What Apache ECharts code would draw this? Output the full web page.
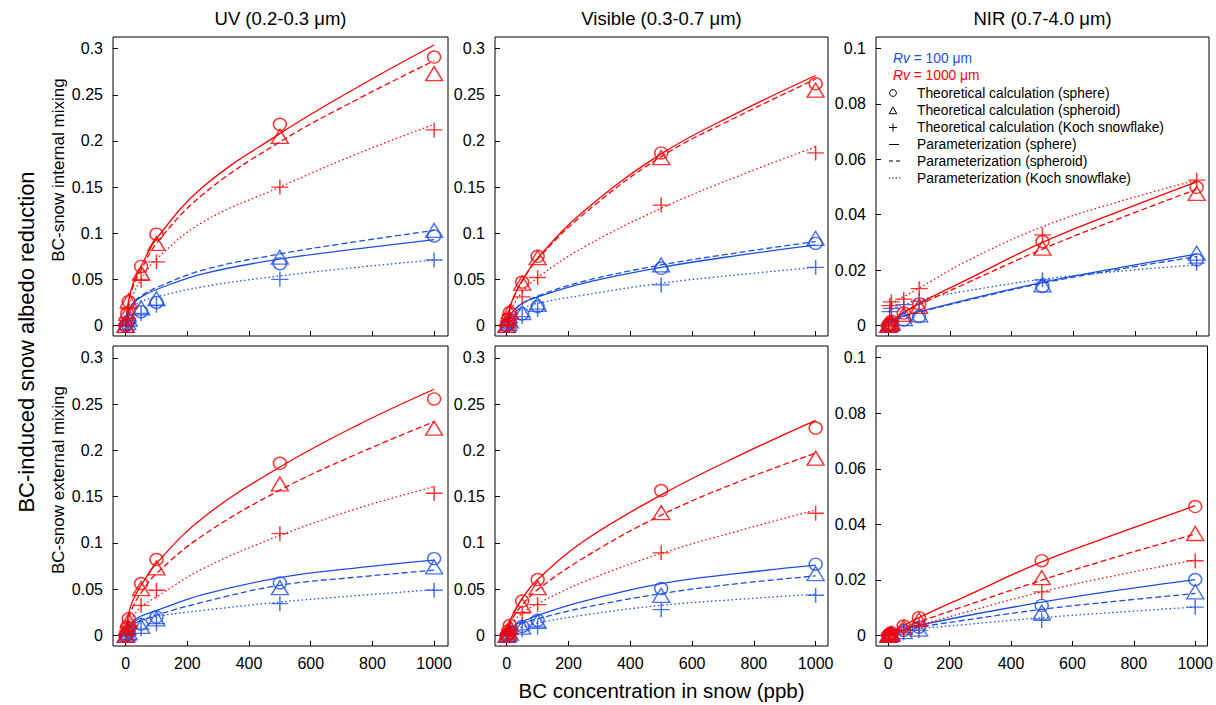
<!DOCTYPE html>
<html><head><meta charset="utf-8">
<script src="https://cdn.jsdelivr.net/npm/echarts@6/dist/echarts.min.js"></script>
<style>html,body{margin:0;padding:0;background:#fff}#c{width:1216px;height:705px}</style>
</head><body><div id="c"></div>
<script>
// ---------- text ----------
const panelTitles = ['UV (0.2-0.3 μm)', 'Visible (0.3-0.7 μm)', 'NIR (0.7-4.0 μm)'];
const rowLabels = ['BC-snow internal mixing', 'BC-snow external mixing'];
const yTitle = 'BC-induced snow albedo reduction';
const xTitle = 'BC concentration in snow (ppb)';
const legendRv = ['= 100 μm', '= 1000 μm'];
const legendItems = ['Theoretical calculation (sphere)', 'Theoretical calculation (spheroid)', 'Theoretical calculation (Koch snowflake)',
  'Parameterization (sphere)', 'Parameterization (spheroid)', 'Parameterization (Koch snowflake)'];

// ---------- ticks ----------
const xTicks = [0, 200, 400, 600, 800, 1000];
const yTicksUV = [0, 0.05, 0.1, 0.15, 0.2, 0.25, 0.3];
const yTicksNIR = [0, 0.02, 0.04, 0.06, 0.08, 0.1];

// ---------- x values ----------
const bcPts = [0, 5, 10, 50, 100, 500, 1000];
const bcFit = [0, 10, 25, 50, 100, 250, 500, 750, 1000];

// ---------- UV, internal mixing ----------
const uvInt_pt_r1000_sph  = [0, 0.013, 0.026, 0.064, 0.099, 0.218, 0.291];
const uvInt_pt_r1000_spd  = [0, 0.013, 0.027, 0.057, 0.089, 0.205, 0.273];
const uvInt_pt_r1000_koch = [0, 0.008, 0.018, 0.049, 0.069, 0.150, 0.212];
const uvInt_pt_r100_sph   = [0, 0.002, 0.005, 0.015, 0.025, 0.067, 0.097];
const uvInt_pt_r100_spd   = [0, 0.003, 0.007, 0.019, 0.029, 0.074, 0.103];
const uvInt_pt_r100_koch  = [0, 0.002, 0.004, 0.013, 0.022, 0.050, 0.071];
const uvInt_fit_r1000_sph  = [0, 0.028, 0.046, 0.064, 0.094, 0.150, 0.208, 0.258, 0.304];
const uvInt_fit_r1000_spd  = [0, 0.026, 0.043, 0.060, 0.089, 0.142, 0.199, 0.245, 0.287];
const uvInt_fit_r1000_koch = [0, 0.021, 0.034, 0.050, 0.072, 0.112, 0.150, 0.186, 0.218];
const uvInt_fit_r100_sph   = [0, 0.016, 0.024, 0.031, 0.039, 0.056, 0.072, 0.083, 0.093];
const uvInt_fit_r100_spd   = [0, 0.016, 0.025, 0.032, 0.041, 0.060, 0.0775, 0.091, 0.103];
const uvInt_fit_r100_koch  = [0, 0.013, 0.020, 0.026, 0.031, 0.042, 0.0537, 0.063, 0.071];

// ---------- Visible, internal mixing ----------
const visInt_pt_r1000_sph  = [0, 0.007, 0.014, 0.047, 0.075, 0.187, 0.262];
const visInt_pt_r1000_spd  = [0, 0.007, 0.015, 0.046, 0.0735, 0.182, 0.255];
const visInt_pt_r1000_koch = [0, 0.005, 0.012, 0.031, 0.052, 0.1305, 0.187];
const visInt_pt_r100_sph   = [0, 0.002, 0.004, 0.0126, 0.0205, 0.062, 0.089];
const visInt_pt_r100_spd   = [0, 0.002, 0.005, 0.014, 0.023, 0.0656, 0.0945];
const visInt_pt_r100_koch  = [0, 0.001, 0.003, 0.0097, 0.0177, 0.044, 0.063];
const visInt_fit_r1000_sph  = [0, 0.019, 0.033, 0.049, 0.073, 0.124, 0.186, 0.231, 0.271];
const visInt_fit_r1000_spd  = [0, 0.018, 0.032, 0.048, 0.072, 0.121, 0.183, 0.227, 0.267];
const visInt_fit_r1000_koch = [0, 0.014, 0.024, 0.036, 0.052, 0.085, 0.127, 0.162, 0.1936];
const visInt_fit_r100_sph   = [0, 0.010, 0.017, 0.024, 0.031, 0.046, 0.063, 0.076, 0.087];
const visInt_fit_r100_spd   = [0, 0.010, 0.017, 0.024, 0.032, 0.048, 0.0656, 0.079, 0.091];
const visInt_fit_r100_koch  = [0, 0.008, 0.013, 0.018, 0.024, 0.033, 0.0458, 0.055, 0.063];

// ---------- NIR, internal mixing ----------
const nirInt_pt_r1000_sph  = [0, 0.0008, 0.0015, 0.0045, 0.0078, 0.0303, 0.0499];
const nirInt_pt_r1000_spd  = [0, 0.0006, 0.0012, 0.0040, 0.0069, 0.0279, 0.0477];
const nirInt_pt_r1000_koch = [0, 0.0072, 0.0085, 0.0095, 0.0133, 0.0327, 0.0525];
const nirInt_pt_r100_sph   = [0, 0.0003, 0.0006, 0.0020, 0.0032, 0.0141, 0.0237];
const nirInt_pt_r100_spd   = [0, 0.0004, 0.0008, 0.0025, 0.0038, 0.0147, 0.0261];
const nirInt_pt_r100_koch  = [0, 0.0050, 0.0062, 0.0075, 0.0088, 0.0165, 0.0225];
const nirInt_fit_r1000_sph  = [0, 0.0012, 0.0028, 0.0048, 0.0080, 0.0163, 0.0300, 0.0413, 0.0519];
const nirInt_fit_r1000_spd  = [0, 0.0011, 0.0026, 0.0045, 0.0075, 0.0151, 0.0276, 0.0387, 0.0492];
const nirInt_fit_r1000_koch = [null, 0.0076, 0.0088, 0.0104, 0.0135, 0.0230, 0.0357, 0.0448, 0.0525];
const nirInt_fit_r100_sph   = [0, 0.0015, 0.0025, 0.0035, 0.0050, 0.0092, 0.0156, 0.0209, 0.0258];
const nirInt_fit_r100_spd   = [0, 0.0014, 0.0023, 0.0033, 0.0048, 0.0089, 0.0153, 0.0203, 0.0249];
const nirInt_fit_r100_koch  = [0.0050, 0.0058, 0.0065, 0.0075, 0.0093, 0.0124, 0.0167, 0.0196, 0.0219];

// ---------- UV, external mixing ----------
const uvExt_pt_r1000_sph  = [0, 0.009, 0.018, 0.056, 0.082, 0.186, 0.2555];
const uvExt_pt_r1000_spd  = [0, 0.008, 0.016, 0.0506, 0.073, 0.1637, 0.224];
const uvExt_pt_r1000_koch = [0, 0.005, 0.010, 0.0325, 0.0488, 0.110, 0.1536];
const uvExt_pt_r100_sph   = [0, 0.002, 0.004, 0.012, 0.0199, 0.0567, 0.083];
const uvExt_pt_r100_spd   = [0, 0.0015, 0.003, 0.0098, 0.018, 0.0517, 0.074];
const uvExt_pt_r100_koch  = [0, 0.001, 0.002, 0.0072, 0.0127, 0.0343, 0.0488];
const uvExt_fit_r1000_sph  = [0, 0.024, 0.039, 0.054, 0.078, 0.127, 0.182, 0.227, 0.266];
const uvExt_fit_r1000_spd  = [0, 0.019, 0.032, 0.046, 0.067, 0.108, 0.157, 0.196, 0.231];
const uvExt_fit_r1000_koch = [0, 0.012, 0.021, 0.031, 0.0416, 0.072, 0.108, 0.137, 0.1608];
const uvExt_fit_r100_sph   = [0, 0.010, 0.016, 0.021, 0.027, 0.044, 0.0625, 0.073, 0.0813];
const uvExt_fit_r100_spd   = [0, 0.007, 0.012, 0.016, 0.022, 0.036, 0.0542, 0.063, 0.0705];
const uvExt_fit_r100_koch  = [0, 0.008, 0.012, 0.016, 0.0206, 0.027, 0.0361, 0.043, 0.0495];

// ---------- Visible, external mixing ----------
const visExt_pt_r1000_sph  = [0, 0.005, 0.011, 0.0372, 0.0604, 0.1565, 0.224];
const visExt_pt_r1000_spd  = [0, 0.004, 0.009, 0.0325, 0.0517, 0.1327, 0.1916];
const visExt_pt_r1000_koch = [0, 0.003, 0.006, 0.0242, 0.0333, 0.0893, 0.132];
const visExt_pt_r100_sph   = [0, 0.0015, 0.003, 0.0098, 0.0163, 0.0506, 0.077];
const visExt_pt_r100_spd   = [0, 0.0012, 0.0025, 0.009, 0.0152, 0.0434, 0.0669];
const visExt_pt_r100_koch  = [0, 0.001, 0.002, 0.0061, 0.009, 0.0278, 0.0434];
const visExt_fit_r1000_sph  = [0, 0.015, 0.026, 0.040, 0.0604, 0.102, 0.1518, 0.194, 0.2324];
const visExt_fit_r1000_spd  = [0, 0.012, 0.022, 0.033, 0.0495, 0.084, 0.130, 0.166, 0.197];
const visExt_fit_r1000_koch = [0, 0.009, 0.016, 0.024, 0.0343, 0.058, 0.0886, 0.113, 0.1355];
const visExt_fit_r100_sph   = [0, 0.007, 0.011, 0.015, 0.0217, 0.037, 0.056, 0.067, 0.0759];
const visExt_fit_r100_spd   = [0, 0.006, 0.009, 0.013, 0.018, 0.030, 0.0452, 0.056, 0.0643];
const visExt_fit_r100_koch  = [0, 0.004, 0.007, 0.009, 0.0134, 0.022, 0.0325, 0.039, 0.0445];

// ---------- NIR, external mixing ----------
const nirExt_pt_r1000_sph  = [0, 0.0005, 0.0010, 0.0034, 0.0064, 0.0269, 0.0464];
const nirExt_pt_r1000_spd  = [0, 0.0004, 0.0008, 0.0030, 0.0057, 0.0208, 0.0367];
const nirExt_pt_r1000_koch = [0, 0.0003, 0.0005, 0.0020, 0.0036, 0.0157, 0.0269];
const nirExt_pt_r100_sph   = [0, 0.0003, 0.0005, 0.0018, 0.0030, 0.0108, 0.0201];
const nirExt_pt_r100_spd   = [0, 0.0002, 0.0004, 0.0014, 0.0023, 0.0084, 0.0157];
const nirExt_pt_r100_koch  = [0, 0.0001, 0.0003, 0.0010, 0.0018, 0.0054, 0.0102];
const nirExt_fit_r1000_sph  = [0, 0.0008, 0.0019, 0.0035, 0.0064, 0.0140, 0.0265, 0.0368, 0.0467];
const nirExt_fit_r1000_spd  = [0, 0.0006, 0.0014, 0.0026, 0.0048, 0.0106, 0.0199, 0.0285, 0.0365];
const nirExt_fit_r1000_koch = [0, 0.0005, 0.0011, 0.0020, 0.0036, 0.0083, 0.0157, 0.0218, 0.0271];
const nirExt_fit_r100_sph   = [0, 0.0005, 0.0012, 0.0021, 0.0036, 0.0070, 0.0120, 0.0163, 0.0201];
const nirExt_fit_r100_spd   = [0, 0.0004, 0.0010, 0.0018, 0.0030, 0.0055, 0.0094, 0.0124, 0.0151];
const nirExt_fit_r100_koch  = [0, 0.0005, 0.0010, 0.0015, 0.0024, 0.0039, 0.0064, 0.0084, 0.0102];

// ---------- assemble ----------
const RED = '#ff0000', BLUE = '#1b4fe6';
const FONT = '"Liberation Sans", Arial, Helvetica, sans-serif';

const panelData = [
  {pts: {b: [uvInt_pt_r100_sph, uvInt_pt_r100_spd, uvInt_pt_r100_koch], r: [uvInt_pt_r1000_sph, uvInt_pt_r1000_spd, uvInt_pt_r1000_koch]},
   fit: {b: [uvInt_fit_r100_sph, uvInt_fit_r100_spd, uvInt_fit_r100_koch], r: [uvInt_fit_r1000_sph, uvInt_fit_r1000_spd, uvInt_fit_r1000_koch]}},
  {pts: {b: [visInt_pt_r100_sph, visInt_pt_r100_spd, visInt_pt_r100_koch], r: [visInt_pt_r1000_sph, visInt_pt_r1000_spd, visInt_pt_r1000_koch]},
   fit: {b: [visInt_fit_r100_sph, visInt_fit_r100_spd, visInt_fit_r100_koch], r: [visInt_fit_r1000_sph, visInt_fit_r1000_spd, visInt_fit_r1000_koch]}},
  {pts: {b: [nirInt_pt_r100_sph, nirInt_pt_r100_spd, nirInt_pt_r100_koch], r: [nirInt_pt_r1000_sph, nirInt_pt_r1000_spd, nirInt_pt_r1000_koch]},
   fit: {b: [nirInt_fit_r100_sph, nirInt_fit_r100_spd, nirInt_fit_r100_koch], r: [nirInt_fit_r1000_sph, nirInt_fit_r1000_spd, nirInt_fit_r1000_koch]}},
  {pts: {b: [uvExt_pt_r100_sph, uvExt_pt_r100_spd, uvExt_pt_r100_koch], r: [uvExt_pt_r1000_sph, uvExt_pt_r1000_spd, uvExt_pt_r1000_koch]},
   fit: {b: [uvExt_fit_r100_sph, uvExt_fit_r100_spd, uvExt_fit_r100_koch], r: [uvExt_fit_r1000_sph, uvExt_fit_r1000_spd, uvExt_fit_r1000_koch]}},
  {pts: {b: [visExt_pt_r100_sph, visExt_pt_r100_spd, visExt_pt_r100_koch], r: [visExt_pt_r1000_sph, visExt_pt_r1000_spd, visExt_pt_r1000_koch]},
   fit: {b: [visExt_fit_r100_sph, visExt_fit_r100_spd, visExt_fit_r100_koch], r: [visExt_fit_r1000_sph, visExt_fit_r1000_spd, visExt_fit_r1000_koch]}},
  {pts: {b: [nirExt_pt_r100_sph, nirExt_pt_r100_spd, nirExt_pt_r100_koch], r: [nirExt_pt_r1000_sph, nirExt_pt_r1000_spd, nirExt_pt_r1000_koch]},
   fit: {b: [nirExt_fit_r100_sph, nirExt_fit_r100_spd, nirExt_fit_r100_koch], r: [nirExt_fit_r1000_sph, nirExt_fit_r1000_spd, nirExt_fit_r1000_koch]}}
];

const colLeft = [113, 495, 876];
const colWidth = [335, 333, 333];
const colXRange = [[-41, 1045], [-38, 1040], [-40, 1040]];
const rowTop = [37, 346];
const rowHeight = [299, 300];
const yRangeUV = [-0.0114, 0.3127];
const yRangeNIR = [-0.0038, 0.1042];

const shapes = [
  {sym: 'circle', size: [13, 12], dash: 'solid'},
  {sym: 'triangle', size: [17, 14], dash: [6, 3]},
  {sym: 'path://M0,7H14M7,0V14', size: [17, 15], dash: [1.5, 2.6]}
];

const grids = [], xAxes = [], yAxes = [], series = [];
for (let i = 0; i < 6; i++) {
  const row = Math.floor(i / 3), col = i % 3;
  const nir = col === 2;
  grids.push({left: colLeft[col], top: rowTop[row], width: colWidth[col], height: rowHeight[row],
    show: true, borderColor: '#000', borderWidth: 1, backgroundColor: 'transparent', containLabel: false});
  xAxes.push({gridIndex: i, type: 'value', min: colXRange[col][0], max: colXRange[col][1],
    axisLine: {show: false, onZero: false},
    axisTick: {show: true, inside: true, length: 5, customValues: xTicks, lineStyle: {color: '#000', width: 1}},
    axisLabel: {show: row === 1, customValues: xTicks, color: '#000', fontSize: 16, fontFamily: FONT, margin: 9,
      formatter: v => String(v)},
    splitLine: {show: false}});
  const yt = nir ? yTicksNIR : yTicksUV, yr = nir ? yRangeNIR : yRangeUV;
  yAxes.push({gridIndex: i, type: 'value', min: yr[0], max: yr[1],
    axisLine: {show: false, onZero: false},
    axisTick: {show: true, inside: true, length: 5, customValues: yt, lineStyle: {color: '#000', width: 1}},
    axisLabel: {show: true, customValues: yt, color: '#000', fontSize: 16, fontFamily: FONT, margin: 10,
      formatter: v => String(v)},
    splitLine: {show: false}});
  const d = panelData[i];
  [['b', BLUE], ['r', RED]].forEach(([key, color]) => {
    for (let k = 0; k < 3; k++) {
      series.push({type: 'line', xAxisIndex: i, yAxisIndex: i, silent: true, animation: false,
        symbol: 'none', showSymbol: false, smooth: 0.4, z: 2,
        lineStyle: {color, width: 1.3, type: shapes[k].dash},
        data: bcFit.map((x, j) => [x, d.fit[key][k][j]])});
    }
  });
  [['b', BLUE], ['r', RED]].forEach(([key, color]) => {
    for (let k = 0; k < 3; k++) {
      series.push({type: 'scatter', xAxisIndex: i, yAxisIndex: i, silent: true, animation: false,
        symbol: shapes[k].sym, symbolSize: shapes[k].size, symbolKeepAspect: false, z: 3,
        itemStyle: {color: 'rgba(0,0,0,0)', borderColor: color, borderWidth: 1.4},
        data: bcPts.map((x, j) => [x, d.pts[key][k][j]])});
    }
  });
}

// ---------- graphic texts & legend ----------
const g = [];
const colCenter = colLeft.map((l, c) => l + colWidth[c] / 2);
const T = (x, y, text, font, extra) => Object.assign({type: 'text', x, y,
  style: {text, font, fill: '#000', textAlign: 'center', textVerticalAlign: 'middle', align: 'center', verticalAlign: 'middle'}}, extra || {});
panelTitles.forEach((t, c) => g.push(T(colCenter[c], 18, t, '18.5px ' + FONT)));
g.push(T(colCenter[1], 690, xTitle, '20.5px ' + FONT));
g.push(T(26, 342, yTitle, '22px ' + FONT, {rotation: Math.PI / 2}));
[170, 480].forEach((yy, r) => g.push(T(58, yy, rowLabels[r], '17px ' + FONT, {rotation: Math.PI / 2})));

const LF = 13.8;
const legX = 893, legTextX = 917;
const legRows = [58, 75, 93, 110.5, 127.5, 144.5, 161, 178];
[BLUE, RED].forEach((c, r) => g.push({type: 'text', x: legX, y: legRows[r],
  style: {text: '{i|Rv} ' + legendRv[r], fill: c, font: LF + 'px ' + FONT, textAlign: 'left', textVerticalAlign: 'middle', align: 'left', verticalAlign: 'middle',
    rich: {i: {fontStyle: 'italic', fontSize: LF, fontFamily: FONT, fill: c}}}}));
legendItems.forEach((t, k) => g.push({type: 'text', x: legTextX, y: legRows[k + 2],
  style: {text: t, fill: '#000', font: LF + 'px ' + FONT, textAlign: 'left', textVerticalAlign: 'middle', align: 'left', verticalAlign: 'middle'}}));
const ls = {stroke: '#000', lineWidth: 1, fill: 'none'};
g.push({type: 'circle', shape: {cx: legX, cy: legRows[2], r: 3.4}, style: ls});
g.push({type: 'polygon', shape: {points: [[legX - 3.8, legRows[3] + 3.2], [legX + 3.8, legRows[3] + 3.2], [legX, legRows[3] - 3.6]]}, style: ls});
g.push({type: 'polyline', shape: {points: [[legX - 4, legRows[4]], [legX + 4, legRows[4]]]}, style: ls});
g.push({type: 'polyline', shape: {points: [[legX, legRows[4] - 4], [legX, legRows[4] + 4]]}, style: ls});
g.push({type: 'line', shape: {x1: 889, y1: legRows[5], x2: 899, y2: legRows[5]}, style: ls});
g.push({type: 'line', shape: {x1: 889, y1: legRows[6], x2: 901, y2: legRows[6]}, style: Object.assign({}, ls, {lineDash: [4, 3]})});
g.push({type: 'line', shape: {x1: 889, y1: legRows[7], x2: 902, y2: legRows[7]}, style: Object.assign({}, ls, {lineDash: [1.2, 2.2]})});

const chart = echarts.init(document.getElementById('c'), null, {renderer: 'svg', width: 1216, height: 705});
chart.setOption({
  animation: false,
  backgroundColor: '#fff',
  grid: grids, xAxis: xAxes, yAxis: yAxes, series: series,
  graphic: {elements: g}
});
</script>
</body></html>
